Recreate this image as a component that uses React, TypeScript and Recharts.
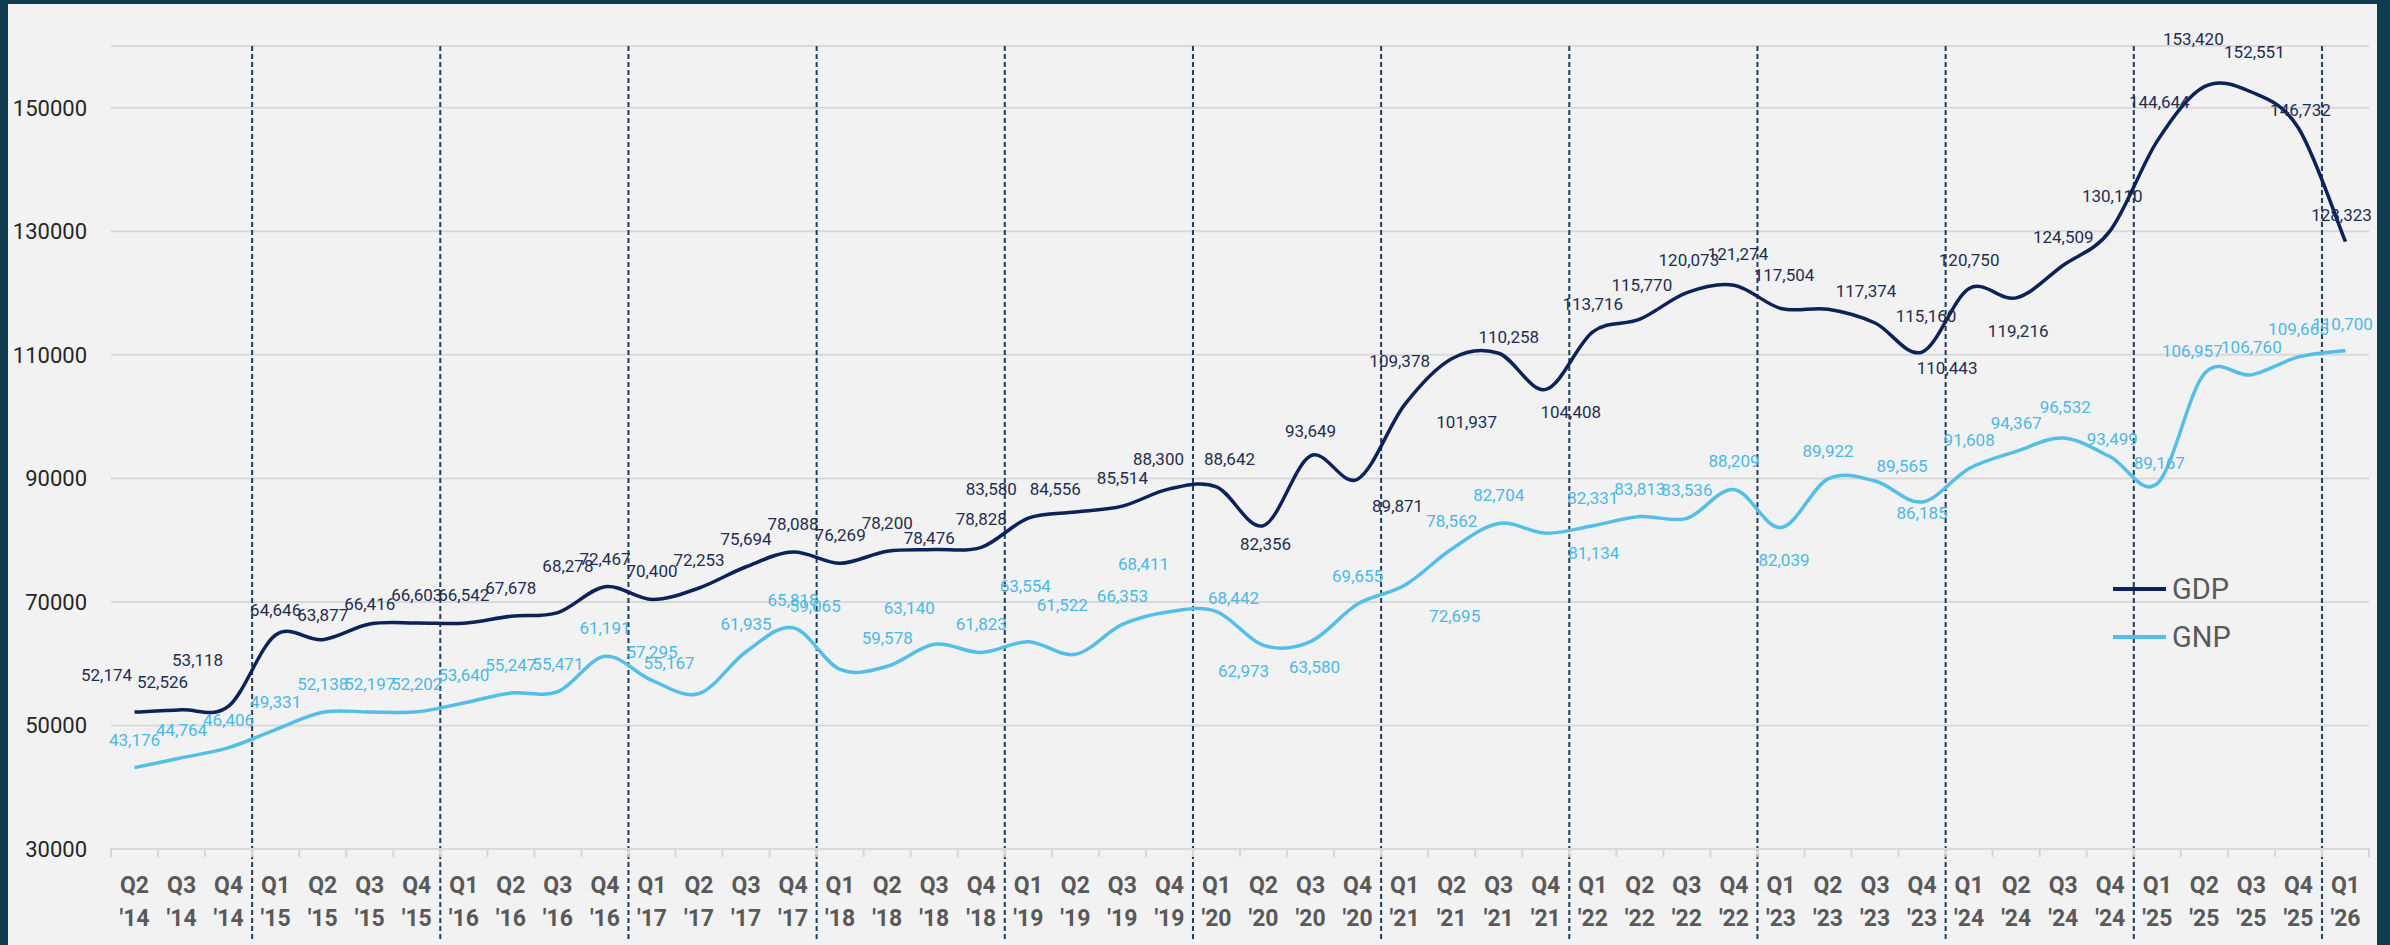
import React from 'react';
import { LineChart, Line, XAxis, YAxis, CartesianGrid, ReferenceLine, LabelList } from 'recharts';

const QUARTERS = [
  "Q2 '14", "Q3 '14", "Q4 '14",
  "Q1 '15", "Q2 '15", "Q3 '15", "Q4 '15",
  "Q1 '16", "Q2 '16", "Q3 '16", "Q4 '16",
  "Q1 '17", "Q2 '17", "Q3 '17", "Q4 '17",
  "Q1 '18", "Q2 '18", "Q3 '18", "Q4 '18",
  "Q1 '19", "Q2 '19", "Q3 '19", "Q4 '19",
  "Q1 '20", "Q2 '20", "Q3 '20", "Q4 '20",
  "Q1 '21", "Q2 '21", "Q3 '21", "Q4 '21",
  "Q1 '22", "Q2 '22", "Q3 '22", "Q4 '22",
  "Q1 '23", "Q2 '23", "Q3 '23", "Q4 '23",
  "Q1 '24", "Q2 '24", "Q3 '24", "Q4 '24",
  "Q1 '25", "Q2 '25", "Q3 '25", "Q4 '25",
  "Q1 '26",
];

const GDP = [
  52174, 52526, 53118, 64646, 63877, 66416, 66603, 66542, 67678, 68278, 72467, 70400,
  72253, 75694, 78088, 76269, 78200, 78476, 78828, 83580, 84556, 85514, 88300, 88642,
  82356, 93649, 89871, 101937, 109378, 110258, 104408, 113716, 115770, 120073, 121274, 117504,
  117374, 115160, 110443, 120750, 119216, 124509, 130110, 144644, 153420, 152551, 146732, 128323,
];

const GNP = [
  43176, 44764, 46406, 49331, 52138, 52197, 52202, 53640, 55247, 55471, 61191, 57295,
  55167, 61935, 65818, 59065, 59578, 63140, 61823, 63554, 61522, 66353, 68411, 68442,
  62973, 63580, 69655, 72695, 78562, 82704, 81134, 82331, 83813, 83536, 88209, 82039,
  89922, 89565, 86185, 91608, 94367, 96532, 93499, 89167, 106957, 106760, 109665, 110700,
];

const Y_TICKS = [30000, 50000, 70000, 90000, 110000, 130000, 150000];

// year boundaries (between Q4 and Q1)
const YEAR_BREAKS = [2.5, 6.5, 10.5, 14.5, 18.5, 22.5, 26.5, 30.5, 34.5, 38.5, 42.5, 46.5];

// label nudges [dx, dy] for the data labels, default sits above the point
const GDP_NUDGE: Record<number, number[]> = {
  0: [-28, -37], 1: [-19, -28], 2: [-31, -46], 3: [0, -25], 4: [0, -25], 5: [0, -20],
  9: [10, -47], 17: [-5, -12], 19: [-37, -29], 20: [-20, -23], 22: [-11, -30], 23: [13, -28],
  24: [2, 18], 25: [0, -25], 26: [40, 27], 27: [62, 17], 28: [-52, 2], 29: [10, -16],
  30: [25, 23], 32: [2, -34], 33: [2, -33], 34: [4, -31], 35: [3, -33], 36: [38, -18],
  37: [51, -7], 38: [25, 16], 40: [2, 33], 42: [2, -35], 43: [2, -39], 44: [-11, -48],
  45: [3, -40], 46: [2, -18], 47: [-4, -27],
};
const GNP_NUDGE: Record<number, number[]> = {
  12: [-30, -30], 15: [-25, -63], 17: [-25, -36], 19: [-3, -56], 20: [-13, -49], 22: [-26, -48],
  23: [17, -13], 24: [-20, 26], 25: [4, 25], 27: [50, 31], 30: [48, 20], 35: [3, 32],
  37: [27, -15], 38: [0, 11], 41: [2, -31], 42: [2, -18], 43: [2, -20], 44: [-12, -23],
  47: [-3, -26],
};

const GDP_COLOR = '#0c2359';
const GNP_COLOR = '#53bfe9';
const GDP_LABEL = '#1e2d52';
const GNP_LABEL = '#4cb8e6';
const FONT = 'Roboto, "Noto Sans", sans-serif';

const W = 2369;
const H = 941;
const MARGIN = { top: 42, right: 8, bottom: 6, left: 3 };
const Y_W = 100;
const X_H = 90;
const BAND = (W - MARGIN.left - MARGIN.right - Y_W) / QUARTERS.length;

const rows = QUARTERS.map((q, i) => ({ i, q, gdp: GDP[i], gnp: GNP[i] }));

// Excel-style smoothed line (Catmull-Rom through every point)
function excelSmooth(context: any) {
  let pts: number[][] = [];
  return {
    areaStart() {},
    areaEnd() {},
    lineStart() { pts = []; },
    point(x: number, y: number) { pts.push([+x, +y]); },
    lineEnd() {
      const n = pts.length;
      if (!n) return;
      context.moveTo(pts[0][0], pts[0][1]);
      for (let i = 0; i < n - 1; i++) {
        const p0 = pts[Math.max(i - 1, 0)];
        const p1 = pts[i];
        const p2 = pts[i + 1];
        const p3 = pts[Math.min(i + 2, n - 1)];
        context.bezierCurveTo(
          p1[0] + (p2[0] - p0[0]) / 6, p1[1] + (p2[1] - p0[1]) / 6,
          p2[0] - (p3[0] - p1[0]) / 6, p2[1] - (p3[1] - p1[1]) / 6,
          p2[0], p2[1],
        );
      }
    },
  };
}

const makeLabel = (color: string, nudge: Record<number, number[]>) => (p: any) => {
  const vb = p.viewBox || {};
  const x = typeof p.x === 'number' ? p.x : vb.x;
  const y = typeof p.y === 'number' ? p.y : vb.y;
  const idx = typeof p.index === 'number' ? p.index : 0;
  const [dx, dy] = nudge[idx] ?? [0, -28];
  return (
    <text x={x + dx} y={y + dy} dy="0.35em" textAnchor="middle" fill={color}
      fontSize={17} fontFamily={FONT}>
      {Number(p.value).toLocaleString('en-US')}
    </text>
  );
};

const QuarterTick = (props: any) => {
  const { x, y, payload } = props;
  const idx = payload.value;
  const [q, yr] = (QUARTERS[idx] || '').split(' ');
  const tickStyle = { stroke: '#d6d6d6', strokeWidth: 2 };
  return (
    <g>
      {idx === 0 && <line x1={x - BAND / 2} x2={x - BAND / 2} y1={y} y2={y + 8} {...tickStyle} />}
      <line x1={x + BAND / 2} x2={x + BAND / 2} y1={y} y2={y + 8} {...tickStyle} />
      <text x={x} y={y + 44} textAnchor="middle" fill="#595959" fontSize={23} fontWeight={700} fontFamily={FONT}>{q}</text>
      <text x={x} y={y + 77} textAnchor="middle" fill="#595959" fontSize={23} fontWeight={700} fontFamily={FONT}>{yr}</text>
    </g>
  );
};

const YearBreak = (p: any) => {
  const top = Math.min(p.y1, p.y2);
  const bottom = Math.max(p.y1, p.y2);
  return (
    <line x1={p.x1} x2={p.x2} y1={top} y2={bottom + 92}
      stroke="#1f3d5c" strokeWidth={2} strokeDasharray="5 3" />
  );
};

const LEGEND = [
  { name: 'GDP', color: GDP_COLOR },
  { name: 'GNP', color: GNP_COLOR },
];

export default function App() {
  return (
    <div style={{ position: 'absolute', left: 0, top: 0, width: 2390, height: 945, background: '#113b4f' }}>
      <div style={{ position: 'absolute', left: 8, top: 4, width: W, height: H, background: '#f2f2f2' }}>
        <LineChart width={W} height={H} data={rows} margin={MARGIN}>
          <CartesianGrid horizontal vertical={false} stroke="#d9d9d9" strokeWidth={2} />
          <XAxis
            dataKey="i"
            type="number"
            domain={[-0.5, QUARTERS.length - 0.5]}
            ticks={rows.map(r => r.i)}
            interval={0}
            height={X_H}
            tickLine={false}
            tickSize={0}
            tickMargin={0}
            axisLine={{ stroke: '#d9d9d9', strokeWidth: 2 }}
            tick={<QuarterTick />}
          />
          <YAxis
            domain={[30000, 160000]}
            ticks={Y_TICKS}
            width={Y_W}
            axisLine={false}
            tickLine={false}
            tickSize={0}
            tickMargin={24}
            tick={{ fill: '#262626', fontSize: 22, fontFamily: FONT }}
          />
          {YEAR_BREAKS.map(b => (
            <ReferenceLine key={b} x={b} shape={<YearBreak />} />
          ))}
          <Line dataKey="gnp" name="GNP" type={excelSmooth as any} stroke={GNP_COLOR} strokeWidth={3.5}
            dot={false} activeDot={false} isAnimationActive={false}>
            <LabelList dataKey="gnp" content={makeLabel(GNP_LABEL, GNP_NUDGE)} />
          </Line>
          <Line dataKey="gdp" name="GDP" type={excelSmooth as any} stroke={GDP_COLOR} strokeWidth={3.5}
            dot={false} activeDot={false} isAnimationActive={false}>
            <LabelList dataKey="gdp" content={makeLabel(GDP_LABEL, GDP_NUDGE)} />
          </Line>
        </LineChart>
        <div style={{ position: 'absolute', left: 2105, top: 561, fontFamily: FONT }}>
          {LEGEND.map(l => (
            <div key={l.name} style={{ display: 'flex', alignItems: 'center', height: 48 }}>
              <span style={{ display: 'inline-block', width: 53, height: 4, background: l.color, marginRight: 6 }} />
              <span style={{ fontSize: 29, color: '#595959', lineHeight: '48px' }}>{l.name}</span>
            </div>
          ))}
        </div>
      </div>
    </div>
  );
}
